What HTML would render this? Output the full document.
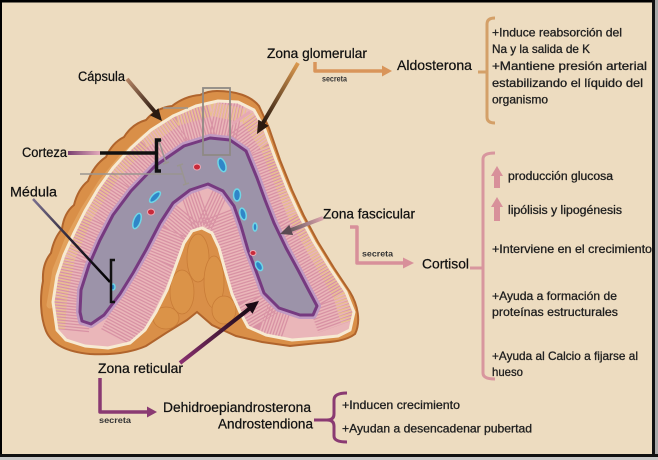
<!DOCTYPE html>
<html><head><meta charset="utf-8">
<style>
html,body{margin:0;padding:0;background:#eddcc0;}
svg{display:block;}
text{font-family:"Liberation Sans",Arial,sans-serif;}
</style></head><body>
<svg width="658" height="460" viewBox="0 0 658 460" xmlns="http://www.w3.org/2000/svg">
<defs>
<clipPath id="cx"><path d="M57,330 L53,302 L57,276 L64,255 L74,233 L85,211 L98,189 L113,168 L131,148 L151,130 L173,116 L196,106 L218,101 L238,102 L254,110 L265,130 L276,160 L288,190 L300,216 L314,242 L330,268 L346,292 L354,312 L350,330 L338,336 L318,338 L292,340 L266,335 L248,327 L240,312 L232,294 L225,270 L219,248 L212,233 L202,228 L192,231 L184,243 L176,265 L167,290 L156,312 L145,330 L130,343 L108,348 L85,346 L66,340 Z"/></clipPath>
<linearGradient id="gCap" gradientUnits="userSpaceOnUse" x1="127" y1="79" x2="155" y2="111"><stop offset="0" stop-color="#b48464"/><stop offset="1" stop-color="#2e1c12"/></linearGradient>
<linearGradient id="gGlo" gradientUnits="userSpaceOnUse" x1="298" y1="63" x2="263" y2="123"><stop offset="0" stop-color="#dc9a50"/><stop offset="1" stop-color="#2a1a10"/></linearGradient>
<linearGradient id="gFas" gradientUnits="userSpaceOnUse" x1="323" y1="218" x2="291" y2="230"><stop offset="0" stop-color="#dca4ac"/><stop offset="1" stop-color="#6a5a60"/></linearGradient>
<linearGradient id="gRet" gradientUnits="userSpaceOnUse" x1="180" y1="363" x2="249" y2="309"><stop offset="0" stop-color="#8a3070"/><stop offset="1" stop-color="#1a0a14"/></linearGradient>
<linearGradient id="gMed" gradientUnits="userSpaceOnUse" x1="33" y1="199" x2="110" y2="282"><stop offset="0" stop-color="#7a7090"/><stop offset="0.5" stop-color="#2a2230"/><stop offset="1" stop-color="#000"/></linearGradient>
<linearGradient id="gCor" gradientUnits="userSpaceOnUse" x1="68" y1="153" x2="100" y2="153"><stop offset="0" stop-color="#7a4070"/><stop offset="1" stop-color="#e4aabb"/></linearGradient>
</defs>

<!-- background & frame -->
<rect x="0" y="0" width="658" height="460" fill="#eddcc0"/>
<rect x="0" y="0" width="658" height="2.5" fill="#000"/>
<rect x="0" y="0" width="2" height="460" fill="#000"/>
<rect x="652" y="0" width="3" height="460" fill="#111"/>
<rect x="655" y="0" width="3" height="460" fill="#a8a8a8"/>
<rect x="0" y="454" width="658" height="3" fill="#111"/>
<rect x="0" y="457" width="658" height="3" fill="#c8c8c8"/>

<!-- gland silhouette: capsule + fat -->
<path d="M217,91 C236,91 251,96 259,106 L269,128 L280,160 L292,190 L304,216 L318,242 L334,268 L350,292 C358,305 361,322 355,334 C346,341 332,342 318,343 L290,346 L262,342 L236,336 L212,325 L197,312 L187,320 L166,333 L146,346 C130,353 110,355 90,354 C68,352 52,345 46,331 C40,316 40,296 43,281 Q42,264 51,253 Q54,238 62,229 Q64,213 74,205 Q78,189 88,181 Q94,165 106,157 Q112,143 124,137 Q132,124 146,120 Q156,108 172,106 Q185,96 200,95 Q208,91 217,91 Z" fill="#d98f48" stroke="#b0642c" stroke-width="2"/>
<path d="M50,305 L56,270 L68,240 L84,210 L102,182 L122,158 L145,137 L170,121 L197,108" fill="none" stroke="#e8ad6a" stroke-width="7" stroke-linecap="round" opacity="0.6"/>
<!-- fat lobules -->
<g fill="#dc9448" stroke="#c77a36" stroke-width="0.8" opacity="0.9">
<ellipse cx="198" cy="258" rx="11" ry="24"/>
<ellipse cx="214" cy="282" rx="10" ry="26"/>
<ellipse cx="182" cy="292" rx="12" ry="22"/>
<ellipse cx="224" cy="310" rx="12" ry="14"/>
<ellipse cx="166" cy="318" rx="13" ry="11"/>
</g>

<!-- cortex -->
<path d="M57,330 L53,302 L57,276 L64,255 L74,233 L85,211 L98,189 L113,168 L131,148 L151,130 L173,116 L196,106 L218,101 L238,102 L254,110 L265,130 L276,160 L288,190 L300,216 L314,242 L330,268 L346,292 L354,312 L350,330 L338,336 L318,338 L292,340 L266,335 L248,327 L240,312 L232,294 L225,270 L219,248 L212,233 L202,228 L192,231 L184,243 L176,265 L167,290 L156,312 L145,330 L130,343 L108,348 L85,346 L66,340 Z" fill="#eab6b9"/>
<g clip-path="url(#cx)" fill="none" stroke-linejoin="round">
<path d="M66,330 L69,300 L77,260 L95,220 L121,180 L149,150 L180,128 L212,119 L240,125 L258,150 L270,180 L286,220 L308,260 L331,300 L340,325" stroke="#d892a4" stroke-width="46" stroke-dasharray="1.3 1.6"/>
<path d="M58,330 L60,300 L68,258 L86,216 L113,174 L143,142 L176,119 L212,109 L246,116 L267,146 L279,177 L295,216 L317,255 L340,295 L348,322" stroke="#e9c08c" stroke-width="14" stroke-dasharray="1.2 1.8" stroke-dashoffset="1.4"/>
<path d="M118,338 L138,300 L158,260 L170,230 L185,212 L205,205 L220,212 L227,230 L240,270 L249,300 L262,322 L285,330" stroke="#d892a4" stroke-width="38" stroke-dasharray="1.3 1.6"/>
</g>
<path d="M57,330 L53,302 L57,276 L64,255 L74,233 L85,211 L98,189 L113,168 L131,148 L151,130 L173,116 L196,106 L218,101 L238,102 L254,110 L265,130 L276,160 L288,190 L300,216 L314,242 L330,268 L346,292 L354,312 L350,330 L338,336 L318,338 L292,340 L266,335 L248,327 L240,312 L232,294 L225,270 L219,248 L212,233 L202,228 L192,231 L184,243 L176,265 L167,290 L156,312 L145,330 L130,343 L108,348 L85,346 L66,340 Z" fill="none" stroke="#f7ead2" stroke-width="3" stroke-linejoin="round"/>

<!-- medulla -->
<path d="M80,312 L81,290 L89,265 L100,240 L113,215 L131,191 L155,166 L184,146 L210,138 L230,140 L246,151 L257,178 L265,200 L274,223 L286,248 L298,270 L309,291 L317,306 L313,315 L300,315 L279,308 L264,293 L256,271 L248,250 L241,226 L234,206 L223,191 L208,184 L190,190 L173,203 L160,223 L146,250 L133,273 L120,294 L104,315 L91,324 L82,321 Z" fill="none" stroke="#c09ac2" stroke-width="8" stroke-linejoin="round"/>
<path d="M80,312 L81,290 L89,265 L100,240 L113,215 L131,191 L155,166 L184,146 L210,138 L230,140 L246,151 L257,178 L265,200 L274,223 L286,248 L298,270 L309,291 L317,306 L313,315 L300,315 L279,308 L264,293 L256,271 L248,250 L241,226 L234,206 L223,191 L208,184 L190,190 L173,203 L160,223 L146,250 L133,273 L120,294 L104,315 L91,324 L82,321 Z" fill="#9c93a9" stroke="#763a80" stroke-width="3" stroke-linejoin="round"/>

<!-- spots -->
<g fill="#2f86c8" stroke="#6fd6e6" stroke-width="1.5">
<ellipse cx="222" cy="165" rx="3.5" ry="7" transform="rotate(-20 222 165)"/>
<ellipse cx="155" cy="197" rx="3" ry="7" transform="rotate(45 155 197)"/>
<ellipse cx="137" cy="221" rx="3.5" ry="8" transform="rotate(20 137 221)"/>
<ellipse cx="237" cy="195" rx="3.5" ry="6"/>
<ellipse cx="243" cy="214" rx="3" ry="6" transform="rotate(-15 243 214)"/>
<ellipse cx="255" cy="227" rx="2" ry="4"/>
<ellipse cx="259" cy="266" rx="3" ry="5" transform="rotate(-30 259 266)"/>
<ellipse cx="113" cy="287" rx="2" ry="3"/>
</g>
<g fill="#c82a3a" stroke="#f0a8b4" stroke-width="1">
<ellipse cx="197" cy="167" rx="3.5" ry="3"/>
<ellipse cx="151" cy="212" rx="3.5" ry="3"/>
<ellipse cx="253" cy="253" rx="3" ry="2.5"/>
</g>

<!-- annotation grey marks -->
<rect x="203" y="88" width="27" height="67" fill="none" stroke="#8f8a84" stroke-width="1.8"/>
<g stroke="#9a9590" stroke-width="1.5" fill="none">
<line x1="163" y1="108" x2="188" y2="108"/>
<line x1="80" y1="174" x2="182" y2="174"/>
<line x1="159" y1="141" x2="166" y2="163"/>
<line x1="156" y1="142" x2="162" y2="140"/>
<line x1="163" y1="164" x2="169" y2="162"/>
<line x1="180" y1="165" x2="186" y2="184"/>
<line x1="177" y1="166" x2="183" y2="164"/>
<line x1="183" y1="185" x2="189" y2="183"/>
</g>
<line x1="232" y1="124" x2="250" y2="112" stroke="#e6a8b4" stroke-width="3"/>

<!-- pointer arrows -->
<line x1="127" y1="79" x2="155" y2="112" stroke="url(#gCap)" stroke-width="4"/>
<polygon points="162,121 150,115.4 158.4,108.2" fill="#2a1a10"/>
<line x1="298" y1="63" x2="263" y2="123" stroke="url(#gGlo)" stroke-width="4"/>
<polygon points="257,134 268.7,125.7 258.3,119.7" fill="#2a1a10"/>
<line x1="323" y1="218" x2="291" y2="230" stroke="url(#gFas)" stroke-width="4"/>
<polygon points="280,234 293.1,235 289.3,224.7" fill="#5a4a52"/>
<line x1="180" y1="363" x2="249" y2="309" stroke="url(#gRet)" stroke-width="4"/>
<polygon points="259,301 252.5,313.7 245.1,304.3" fill="#1a0a14"/>

<!-- Medula pointer -->
<line x1="33" y1="199" x2="110" y2="282" stroke="url(#gMed)" stroke-width="2.5"/>
<path d="M115,260 L111,260 L111,302 L115,302" fill="none" stroke="#111" stroke-width="2.5"/>
<!-- Corteza pointer -->
<line x1="68" y1="153" x2="100" y2="153" stroke="url(#gCor)" stroke-width="4"/>
<line x1="100" y1="153" x2="157" y2="153" stroke="#111" stroke-width="3.5"/>
<path d="M161,140 L156.5,140 L156.5,171 L161,171" fill="none" stroke="#111" stroke-width="3.5"/>

<!-- secreta connectors -->
<path d="M315,62 L315,71 L384,71" fill="none" stroke="#d9955a" stroke-width="3.5" stroke-linejoin="round"/>
<polygon points="392,71 382,65.5 382,76.5" fill="#d9955a"/>
<path d="M350,227 L357,227 L357,263 L404,263" fill="none" stroke="#d8909a" stroke-width="3.5" stroke-linejoin="round"/>
<polygon points="414,263 403,257.5 403,268.5" fill="#d8909a"/>
<path d="M100,378 L100,412 L148,412" fill="none" stroke="#8a3a72" stroke-width="3.5" stroke-linejoin="round"/>
<polygon points="157,412 147,406.5 147,417.5" fill="#8a3a72"/>

<!-- brackets -->
<path d="M495,18 Q487,18 487,24 L487,117 Q487,123 495,123" fill="none" stroke="#d4a068" stroke-width="3"/>
<line x1="478" y1="72" x2="487" y2="72" stroke="#d4a068" stroke-width="3"/>
<path d="M495,153 Q483,153 483,159 L483,373 Q483,379 495,379" fill="none" stroke="#d8969e" stroke-width="3"/>
<line x1="470" y1="268" x2="483" y2="268" stroke="#d8969e" stroke-width="3"/>
<path d="M347,393 Q334,393 334,400 L334,414 Q334,420 327,420 Q334,420 334,426 L334,436 Q334,442 347,442" fill="none" stroke="#8a3a72" stroke-width="3"/>
<line x1="314" y1="420" x2="327" y2="420" stroke="#8a3a72" stroke-width="3"/>

<!-- up arrows -->
<polygon points="497,166 503,176 500,176 500,188 494,188 494,176 491,176" fill="#d8909a"/>
<polygon points="497,197 503,207 500,207 500,221 494,221 494,207 491,207" fill="#d8909a"/>

<!-- labels -->
<g fill="#111" stroke="#111" stroke-width="0.25">
<text x="78" y="81" font-size="13.5" textLength="47" lengthAdjust="spacingAndGlyphs">Cápsula</text>
<text x="22" y="157" font-size="13.5" textLength="45" lengthAdjust="spacingAndGlyphs">Corteza</text>
<text x="10" y="196.5" font-size="13.5" textLength="47" lengthAdjust="spacingAndGlyphs">Médula</text>
<text x="267" y="58" font-size="14" textLength="100" lengthAdjust="spacingAndGlyphs">Zona glomerular</text>
<text x="397" y="70" font-size="14" textLength="75" lengthAdjust="spacingAndGlyphs">Aldosterona</text>
<text x="323" y="218.5" font-size="14" textLength="92" lengthAdjust="spacingAndGlyphs">Zona fascicular</text>
<text x="422" y="268.5" font-size="14" textLength="47" lengthAdjust="spacingAndGlyphs">Cortisol</text>
<text x="98" y="373" font-size="14" textLength="85" lengthAdjust="spacingAndGlyphs">Zona reticular</text>
<text x="163" y="412" font-size="13.5" textLength="148" lengthAdjust="spacingAndGlyphs">Dehidroepiandrosterona</text>
<text x="218" y="428.5" font-size="13.5" textLength="95" lengthAdjust="spacingAndGlyphs">Androstendiona</text>
</g>
<g fill="#333" font-weight="bold" font-size="8">
<text x="322" y="81.5" textLength="25" lengthAdjust="spacingAndGlyphs">secreta</text>
<text x="362" y="256.5" textLength="31" lengthAdjust="spacingAndGlyphs">secreta</text>
<text x="99" y="423" textLength="32" lengthAdjust="spacingAndGlyphs">secreta</text>
</g>
<g fill="#1e1e1e" stroke="#1e1e1e" stroke-width="0.3" font-size="12">
<text x="492" y="36.5" textLength="130" lengthAdjust="spacingAndGlyphs">+Induce reabsorción del</text>
<text x="492" y="53" textLength="98" lengthAdjust="spacingAndGlyphs">Na y la salida de K</text>
<text x="492" y="70" textLength="155" lengthAdjust="spacingAndGlyphs">+Mantiene presión arterial</text>
<text x="492" y="87" textLength="151" lengthAdjust="spacingAndGlyphs">estabilizando el líquido del</text>
<text x="492" y="103.5" textLength="56" lengthAdjust="spacingAndGlyphs">organismo</text>
<text x="508" y="180" font-size="11.5" textLength="105" lengthAdjust="spacingAndGlyphs">producción glucosa</text>
<text x="508" y="214" font-size="11.5" textLength="114" lengthAdjust="spacingAndGlyphs">lipólisis y lipogénesis</text>
<text x="492" y="253" textLength="160" lengthAdjust="spacingAndGlyphs">+Interviene en el crecimiento</text>
<text x="492" y="300" textLength="125" lengthAdjust="spacingAndGlyphs">+Ayuda a formación de</text>
<text x="492" y="316" textLength="126" lengthAdjust="spacingAndGlyphs">proteínas estructurales</text>
<text x="492" y="360" textLength="146" lengthAdjust="spacingAndGlyphs">+Ayuda al Calcio a fijarse al</text>
<text x="492" y="376" textLength="31" lengthAdjust="spacingAndGlyphs">hueso</text>
<text x="342" y="409" textLength="118" lengthAdjust="spacingAndGlyphs">+Inducen crecimiento</text>
<text x="342" y="432.5" textLength="190" lengthAdjust="spacingAndGlyphs">+Ayudan a desencadenar pubertad</text>
</g>
</svg>
</body></html>
